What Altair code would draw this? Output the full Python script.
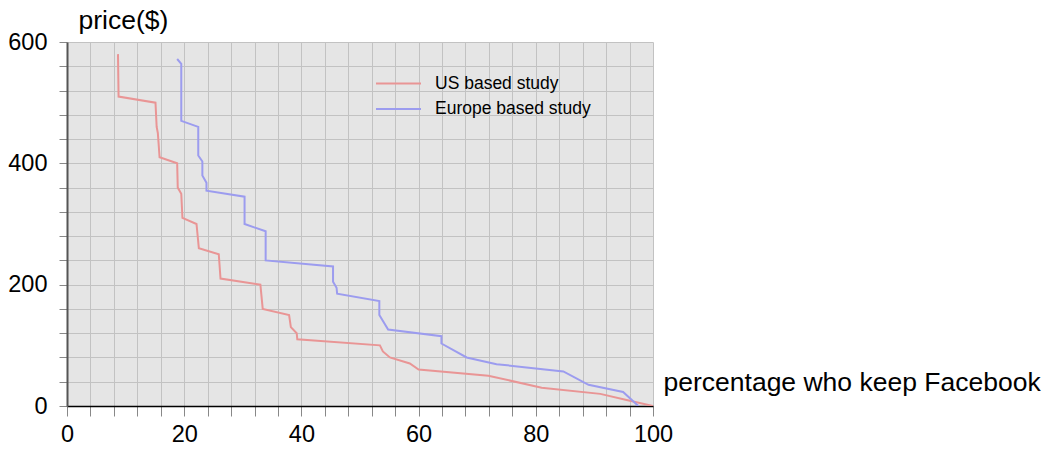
import altair as alt
import pandas as pd

us_x = [8.7, 8.8, 15.1, 15.3, 15.5, 15.8, 18.8, 18.9, 19.5, 19.7, 22.1, 22.5, 25.9, 26.2, 33.0, 33.4,
        37.9, 38.2, 39.2, 39.3, 53.4, 53.9, 55.1, 58.5, 60.0, 71.9, 81.0, 91.0, 95.5, 100.0]
us_y = [580, 510, 500, 460, 450, 410, 400, 360, 350, 310, 300, 260, 250, 210, 200, 160,
        150, 130, 120, 110, 100, 90, 80, 70, 60, 50, 30, 20, 10, 0]

eu_x = [18.8, 19.5, 19.5, 22.4, 22.4, 23.1, 23.1, 23.8, 23.8, 30.3, 30.3, 33.9, 33.9, 45.4,
        45.4, 46.0, 46.1, 53.3, 53.3, 54.8, 63.9, 63.9, 68.2, 73.3, 84.7, 89.0, 94.9, 97.5]
eu_y = [572, 564, 470, 460, 413, 403, 380, 368, 355, 345, 300, 288, 240, 230,
        205, 195, 185, 173, 150, 126, 115, 103, 80, 69, 57, 35, 23, 0]

series = ["US based study", "Europe based study"]
colors = ["#e99595", "#9c9cef"]

rows = []
for i, (x, y) in enumerate(zip(us_x, us_y)):
    rows.append({"pct": x, "price": y, "study": series[0], "order": i})
for i, (x, y) in enumerate(zip(eu_x, eu_y)):
    rows.append({"pct": x, "price": y, "study": series[1], "order": i})
df = pd.DataFrame(rows)

FONT = "Liberation Sans"

chart = alt.Chart(df).mark_line(strokeWidth=2, clip=True).encode(
    x=alt.X("pct:Q",
            scale=alt.Scale(domain=[0, 100], nice=False),
            axis=alt.Axis(values=list(range(0, 101, 4)),
                          labelExpr="datum.value % 20 == 0 ? datum.label : ''",
                          title="percentage who keep Facebook",
                          titleAngle=0, titleAlign="left", titleBaseline="middle",
                          titleX=596, titleY=-24,
                          domainColor="#000000", domainWidth=1.5,
                          tickColor="#888888", tickSize=10,
                          labelPadding=6, labelFlush=False)),
    y=alt.Y("price:Q",
            scale=alt.Scale(domain=[0, 600], nice=False),
            axis=alt.Axis(values=list(range(0, 601, 40)),
                          labelExpr="datum.value % 200 == 0 ? datum.label : ''",
                          title="price($)",
                          titleAngle=0, titleAlign="left", titleBaseline="alphabetic",
                          titleX=11, titleY=-14,
                          domainColor="#555555", domainWidth=2,
                          tickColor="#888888", tickSize=8,
                          labelPadding=12, labelFlush=False)),
    color=alt.Color("study:N",
                    scale=alt.Scale(domain=series, range=colors),
                    legend=alt.Legend(title=None, orient="none", legendX=319, legendY=29,
                                      symbolType="M-2,0H2", symbolSize=506,
                                      symbolStrokeWidth=2, labelFontSize=17.5,
                                      labelFont=FONT, labelColor="#000000",
                                      rowPadding=4.5, labelOffset=24)),
    order="order:Q",
).properties(
    width=586,
    height=364,
    autosize=alt.AutoSizeParams(type="none"),
    padding={"left": 59, "top": 34, "right": 394, "bottom": 39},
).configure_view(
    fill="#e5e5e5", stroke=None
).configure_axis(
    gridColor="#c2c2c2", gridWidth=1,
    labelFont=FONT, titleFont=FONT,
    labelFontSize=23.5, titleFontSize=26.5,
    labelColor="#000000", titleColor="#000000",
    titleFontWeight="normal",
)

chart.save("out.html", embed_options={"renderer": "svg", "actions": False})
